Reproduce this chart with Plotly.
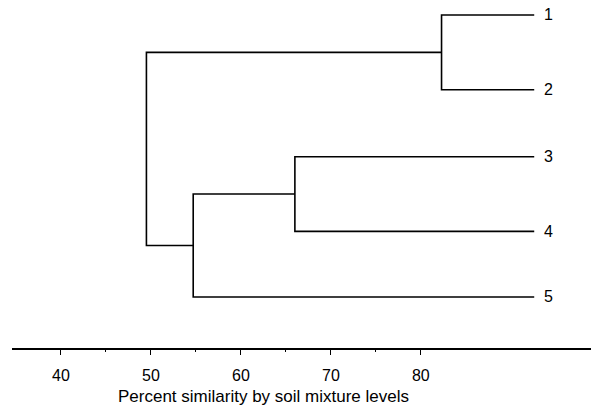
import plotly.graph_objects as go

# ---- data ----
leaf_labels = ["1", "2", "3", "4", "5"]
leaf_rows = [1.0, 2.06, 3.01, 4.07, 5.0]          # vertical order of leaves
leaf_end = 92.6                                   # similarity where leaf lines end
# merges: (left cluster, right cluster, similarity level)
merge_a = ["1", "3", "34", "12"]
merge_b = ["2", "4", "5", "345"]
merge_level = [82.3, 66.0, 54.7, 49.5]
merge_name = ["12", "34", "345", "root"]

tick_vals = [40, 50, 60, 70, 80]
tick_text = ["40", "50", "60", "70", "80"]
minor_vals = [45, 55, 65, 75]
x_title = "Percent similarity by soil mixture levels"

FONT = "Liberation Sans, Arial, sans-serif"

# ---- build dendrogram segments ----
pos = {lab: (leaf_end, r) for lab, r in zip(leaf_labels, leaf_rows)}
xs, ys = [], []
for a, b, lvl, name in zip(merge_a, merge_b, merge_level, merge_name):
    xa, ya = pos[a]
    xb, yb = pos[b]
    xs += [xa, lvl, lvl, xb, None]
    ys += [ya, ya, yb, yb, None]
    pos[name] = (lvl, (ya + yb) / 2)

fig = go.Figure()
fig.add_trace(go.Scatter(x=xs, y=ys, mode="lines",
                         line=dict(color="black", width=1.6),
                         hoverinfo="skip", showlegend=False))

for lab, r in zip(leaf_labels, leaf_rows):
    fig.add_annotation(x=leaf_end, y=r, xref="x", yref="y", text=lab,
                       showarrow=False, xanchor="left", xshift=8,
                       font=dict(size=16, color="black", family=FONT))

fig.add_annotation(x=0.428, y=-0.144, xref="paper", yref="paper",
                   text=x_title, showarrow=False, xanchor="center",
                   yanchor="middle",
                   font=dict(size=17, color="black", family=FONT))

fig.update_layout(
    width=591, height=399,
    margin=dict(l=4, r=0, t=0, b=59),
    paper_bgcolor="white", plot_bgcolor="white",
    font=dict(family=FONT, color="black"),
    xaxis=dict(range=[34.56, 99.8], showgrid=False, zeroline=False,
               showline=True, linecolor="black", linewidth=1.6,
               tickmode="array", tickvals=tick_vals, ticktext=tick_text,
               ticks="outside", ticklen=5, tickwidth=1.4, tickcolor="black",
               ticklabelstandoff=7,
               tickfont=dict(size=16, color="black"),
               minor=dict(tickmode="array", tickvals=minor_vals,
                          ticks="outside", ticklen=2, tickwidth=1,
                          tickcolor="black")),
    yaxis=dict(range=[5.724, 0.901], showgrid=False, zeroline=False,
               showline=False, showticklabels=False, ticks=""),
)

fig.write_html("out.html")
